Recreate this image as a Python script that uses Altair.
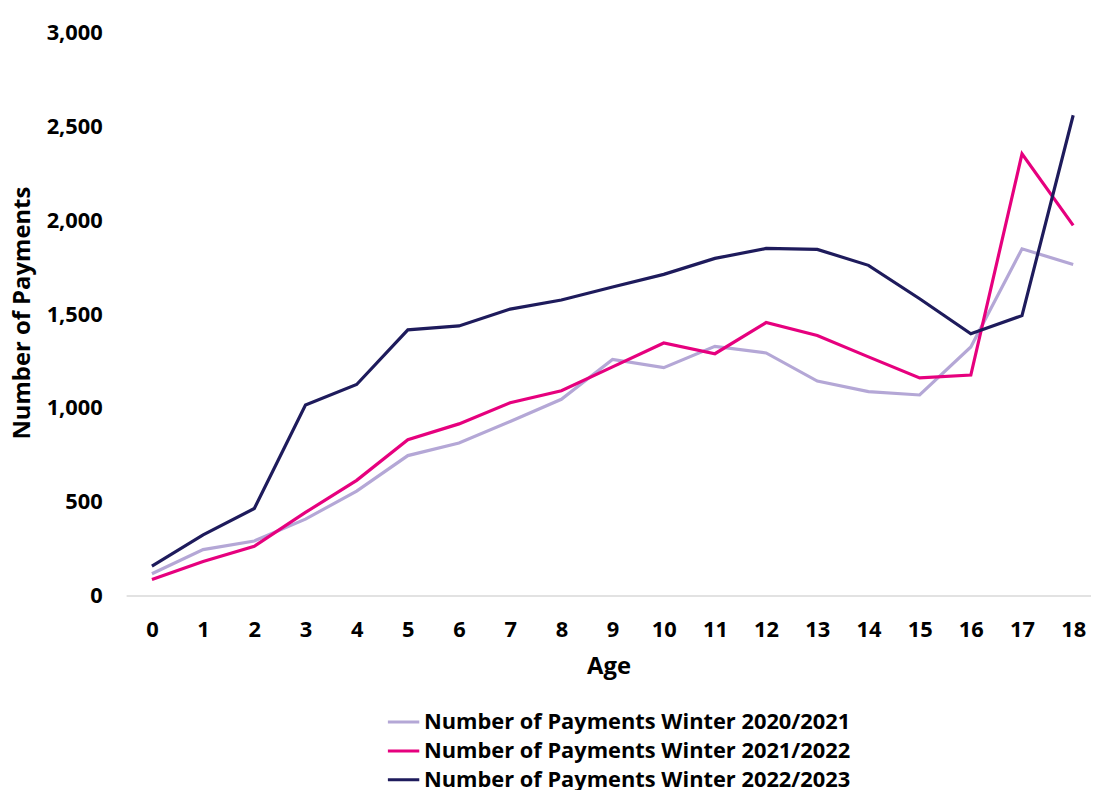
import altair as alt
import pandas as pd

ages = list(range(19))
series_names = [
    "Number of Payments Winter 2020/2021",
    "Number of Payments Winter 2021/2022",
    "Number of Payments Winter 2022/2023",
]
w2020 = [116, 245, 291, 407, 557, 746, 813, 928, 1046, 1258, 1215, 1328, 1293, 1143, 1087, 1069, 1325, 1848, 1765]
w2021 = [85, 182, 263, 443, 614, 831, 915, 1028, 1092, 1219, 1346, 1289, 1455, 1386, 1272, 1160, 1175, 2354, 1973]
w2022 = [157, 323, 464, 1016, 1125, 1416, 1437, 1527, 1575, 1645, 1712, 1797, 1850, 1845, 1760, 1582, 1395, 1492, 2560]
colors = ["#B4A7D6", "#E6007E", "#1E1B5C"]

rows = []
for name, vals in zip(series_names, [w2020, w2021, w2022]):
    for a, v in zip(ages, vals):
        rows.append({"Age": a, "Payments": v, "Series": name})
df = pd.DataFrame(rows)

FONT = "Open Sans"

chart = alt.Chart(df).mark_line(strokeWidth=3.2).encode(
    x=alt.X("Age:Q",
            scale=alt.Scale(domain=[-0.504, 18.348], nice=False, zero=False),
            axis=alt.Axis(values=ages, format="d", title="Age", grid=False, ticks=False,
                          domainColor="#D9D9D9", domainWidth=1.5,
                          labelFont=FONT, labelFontSize=22, labelFontWeight="bold", labelColor="#000000",
                          labelPadding=24, labelFlush=False,
                          titleFont=FONT, titleFontSize=24, titleFontWeight="bold", titleColor="#000000",
                          titleY=72, titleBaseline="middle")),
    y=alt.Y("Payments:Q",
            scale=alt.Scale(domain=[0, 3000], nice=False),
            axis=alt.Axis(values=[0, 500, 1000, 1500, 2000, 2500, 3000], format=",d",
                          title="Number of Payments", grid=False, ticks=False, domain=False,
                          labelFont=FONT, labelFontSize=22, labelFontWeight="bold", labelColor="#000000",
                          labelPadding=24,
                          titleFont=FONT, titleFontSize=24, titleFontWeight="bold", titleColor="#000000",
                          titleAngle=270, titleX=-104, titleY=282, titleAlign="center",
                          titleBaseline="middle")),
    color=alt.Color("Series:N",
                    scale=alt.Scale(domain=series_names, range=colors),
                    legend=alt.Legend(title=None, orient="none", legendX=262, legendY=677,
                                      symbolType="stroke", symbolSize=1000, symbolStrokeWidth=3,
                                      labelFont=FONT, labelFontSize=22, labelFontWeight="bold",
                                      labelColor="#000000", labelOffset=3, rowPadding=-3,
                                      labelLimit=700)),
).properties(
    width=972,
    height=567,
    autosize=alt.AutoSizeParams(type="none"),
    padding={"left": 119, "top": 22, "right": 0, "bottom": 193},
).configure_view(stroke=None)

chart.save("out.html", embed_options={"renderer": "svg", "actions": False})
